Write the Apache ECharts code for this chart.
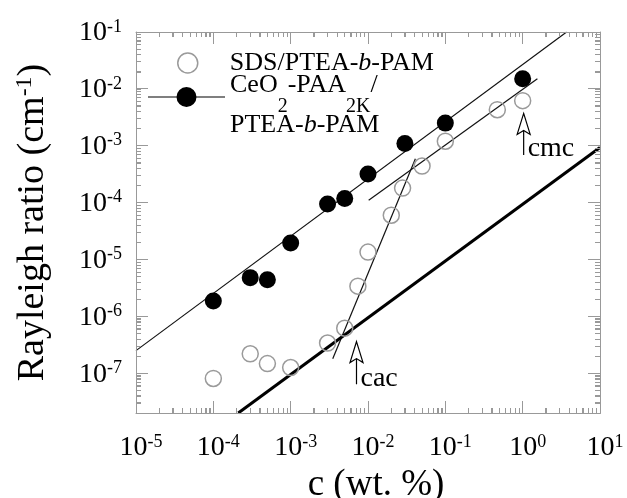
<!DOCTYPE html>
<html><head><meta charset="utf-8">
<script src="https://cdn.jsdelivr.net/npm/echarts@6/dist/echarts.min.js"></script>
<style>html,body{margin:0;padding:0;background:#fff}#c{width:627px;height:498px}</style>
</head><body><div id="c"></div>
<script>
// ---- data ----
const sdsC = [1e-4, 3e-4, 5e-4, 1e-3, 3e-3, 5e-3, 7.4e-3, 1e-2, 2e-2, 2.8e-2, 5e-2, 0.1, 0.47, 1];
const sdsR = [8.1e-8, 2.2e-7, 1.48e-7, 1.26e-7, 3.4e-7, 6.2e-7, 3.4e-6, 1.35e-5, 6e-5, 1.8e-4, 4.4e-4, 1.2e-3, 4.3e-3, 6.2e-3];
const ceoC = [1e-4, 3e-4, 5e-4, 1e-3, 3e-3, 5e-3, 1e-2, 3e-2, 0.1, 1];
const ceoR = [1.86e-6, 4.8e-6, 4.4e-6, 1.95e-5, 9.5e-5, 1.18e-4, 3.2e-4, 1.1e-3, 2.5e-3, 1.5e-2];
const fitCeo = [[1e-5, 2.5e-7], [3.7, 0.1]];
const fitSdsHigh = [[1.02e-2, 1.1e-4], [1.55, 1.5e-2]];
const fitSdsSteep = [[3.5e-3, 1.8e-7], [4.1e-2, 5.9e-4]];
const fitThick = [[2.1e-4, 2e-8], [10, 9.3e-4]];
const annoLabels = ['cmc', 'cac'];
const annoX = [1.03, 7.1e-3];
const annoTipY = [3.7e-3, 3.6e-7];
const annoTailY = [6.9e-4, 6.4e-8];
const xMajor = [1e-5, 1e-4, 1e-3, 1e-2, 1e-1, 1, 10];
const yMajor = [1e-7, 1e-6, 1e-5, 1e-4, 1e-3, 1e-2, 1e-1];
const xRange = [1e-5, 10];
const yRange = [2e-8, 0.1];
const seriesNames = ['SDS/PTEA-b-PAM', 'CeO2-PAA2K/PTEA-b-PAM'];

function minorsOf(lo, hi) {
  const out = [];
  for (let e = Math.floor(Math.log10(lo)); e < Math.ceil(Math.log10(hi)); e++) {
    for (let m = 2; m <= 9; m++) {
      const v = m * Math.pow(10, e);
      if (v > lo * 1.0001 && v < hi * 0.9999) out.push(v);
    }
  }
  return out;
}
const xTicksAll = xMajor.concat(minorsOf(xRange[0], xRange[1]));
const yTicksAll = yMajor.concat(minorsOf(yRange[0], yRange[1]));

// ---- style ----
const FONT = "'Liberation Serif', 'Times New Roman', serif";
const AX = '#999999';
const MAJOR_LEN = 12, MINOR_LEN = 5;
const zip = (a, b) => a.map((v, i) => [v, b[i]]);
const isIn = (arr, v) => arr.some(m => Math.abs(m - v) / m < 1e-6);
const snap = p => Math.floor(p) + 0.5;
function logLabel(v) { const e = Math.round(Math.log10(v)); return '{b|10}{s|' + e + '}'; }
const labelRich = {
  b: {fontFamily: FONT, fontSize: 28, lineHeight: 30, color: '#000'},
  s: {fontFamily: FONT, fontSize: 18, lineHeight: 18, verticalAlign: 'top', color: '#000'}
};
function ax(extra) {
  return Object.assign({
    type: 'log', splitLine: {show: false},
    axisLine: {show: true, onZero: false, lineStyle: {color: AX, width: 1}},
    axisLabel: {show: false}
  }, extra);
}
const tickCfg = vals => ({show: true, inside: true, length: MINOR_LEN, customValues: vals, lineStyle: {color: AX, width: 1}});

// one custom series for annotations, frame and ticks: [x, y, y2, kind]
// kind 0 = arrow, 1 = x tick, 2 = y tick, 3 = frame
const overlayData = []
  .concat(annoX.map((x, i) => [x, annoTipY[i], annoTailY[i], 0]))
  .concat(xTicksAll.map(v => [v, 1e-4, 1e-4, 1]))
  .concat(yTicksAll.map(v => [1e-2, v, v, 2]))
  .concat([[1e-2, 1e-4, 1e-4, 3]]);

function renderOverlay(params, api) {
  const kind = api.value(3);
  if (kind === 0) {
    const tip = api.coord([api.value(0), api.value(1)]);
    const tail = api.coord([api.value(0), api.value(2)]);
    const L = 21, W = 6.5, N = 4;
    return {type: 'group', children: [
      {type: 'line', shape: {x1: tip[0], y1: tip[1] + L - N, x2: tail[0], y2: tail[1]}, style: {stroke: '#000', lineWidth: 1.2}},
      {type: 'polygon', shape: {points: [[tip[0], tip[1]], [tip[0] + W, tip[1] + L], [tip[0], tip[1] + L - N], [tip[0] - W, tip[1] + L]]},
        style: {fill: '#fff', stroke: '#000', lineWidth: 1.2}},
      {type: 'text', style: {text: annoLabels[params.dataIndex], x: tip[0] + 4, y: tail[1] - 6, verticalAlign: 'middle', align: 'left',
        fontFamily: FONT, fontSize: 28, fill: '#000'}}
    ]};
  }
  if (kind === 1) {
    const v = api.value(0);
    const len = isIn(xMajor, v) ? MAJOR_LEN : MINOR_LEN;
    const b = api.coord([v, yRange[0]]);
    const t = api.coord([v, yRange[1]]);
    const x = snap(b[0]);
    return {type: 'group', children: [
      {type: 'line', shape: {x1: x, y1: b[1], x2: x, y2: b[1] - len}, style: {stroke: AX, lineWidth: 1}},
      {type: 'line', shape: {x1: x, y1: t[1], x2: x, y2: t[1] + len}, style: {stroke: AX, lineWidth: 1}}
    ]};
  }
  if (kind === 2) {
    const v = api.value(1);
    const len = isIn(yMajor, v) ? MAJOR_LEN : MINOR_LEN;
    const l = api.coord([xRange[0], v]);
    const r = api.coord([xRange[1], v]);
    const y = snap(l[1]);
    return {type: 'group', children: [
      {type: 'line', shape: {x1: l[0], y1: y, x2: l[0] + len, y2: y}, style: {stroke: AX, lineWidth: 1}},
      {type: 'line', shape: {x1: r[0], y1: y, x2: r[0] - len, y2: y}, style: {stroke: AX, lineWidth: 1}}
    ]};
  }
  const a = api.coord([xRange[0], yRange[0]]);
  const c = api.coord([xRange[1], yRange[1]]);
  const x0 = snap(a[0]), x1 = snap(c[0]), y0 = snap(a[1]), y1 = snap(c[1]);
  return {type: 'polyline', shape: {points: [[x0, y0], [x1, y0], [x1, y1], [x0, y1], [x0, y0]]},
    style: {fill: null, stroke: AX, lineWidth: 1}};
}

const option = {
  animation: false,
  grid: {left: 136, right: 27, top: 32, bottom: 85, outerBoundsMode: 'none', containLabel: false},
  xAxis: [
    ax({position: 'bottom', min: xRange[0], max: xRange[1], axisTick: tickCfg(xTicksAll),
      axisLabel: {show: true, customValues: xMajor, formatter: logLabel, rich: labelRich, margin: 20, padding: [0, 0, 0, 10]},
      name: 'c (wt. %)', nameLocation: 'middle', nameGap: 50,
      nameTextStyle: {fontFamily: FONT, fontSize: 37, lineHeight: 34, color: '#000', padding: [0, 0, 0, 16]}}),
    ax({position: 'top', min: xRange[0], max: xRange[1], axisTick: tickCfg(xTicksAll)})
  ],
  yAxis: [
    ax({position: 'left', min: yRange[0], max: yRange[1], axisTick: tickCfg(yTicksAll),
      axisLabel: {show: true, customValues: yMajor, formatter: logLabel, rich: labelRich, margin: 14, padding: [2, 0, 0, 0]},
      name: 'Rayleigh ratio (cm{s|-1})', nameLocation: 'middle', nameGap: 83,
      nameTextStyle: {fontFamily: FONT, fontSize: 38, lineHeight: 40, color: '#000', padding: [0, 0, 0, 0],
        rich: {s: {fontFamily: FONT, fontSize: 24, lineHeight: 24, verticalAlign: 'top', color: '#000'}}}}),
    ax({position: 'right', min: yRange[0], max: yRange[1], axisTick: tickCfg(yTicksAll)})
  ],
  legend: [
    {
      data: [{name: seriesNames[0], itemStyle: {borderWidth: 1.5, borderColor: '#9a9a9a', color: 'rgba(0,0,0,0)'}}],
      left: 177, top: 48, padding: 0, itemWidth: 20, itemHeight: 20, selectedMode: false,
      formatter: () => 'SDS/PTEA-{i|b}-PAM',
      textStyle: {fontFamily: FONT, fontSize: 26, lineHeight: 30, color: '#000', padding: [0, 0, 0, 27],
        rich: {i: {fontFamily: FONT, fontSize: 26, fontStyle: 'italic', color: '#000'}}}
    },
    {
      data: [{name: seriesNames[1], icon: 'path://M0,10L77,10L77,11L0,11Z M28.5,10.5A10,10,0,1,1,48.5,10.5A10,10,0,1,1,28.5,10.5Z'}],
      left: 148, top: 49, padding: 0, itemWidth: 77, itemHeight: 21, selectedMode: false,
      formatter: () => 'CeO{sub|2}-PAA{sub|2K}/\nPTEA-{i|b}-PAM',
      textStyle: {fontFamily: FONT, fontSize: 26, lineHeight: 40, color: '#000', padding: [16, 0, 0, 0],
        rich: {
          i: {fontFamily: FONT, fontSize: 26, fontStyle: 'italic', color: '#000'},
          sub: {fontFamily: FONT, fontSize: 20, verticalAlign: 'top', padding: [32, 0, 0, 0], color: '#000'}
        }}
    }
  ],
  series: [
    {type: 'line', data: fitCeo, symbol: 'none', silent: true, lineStyle: {color: '#111', width: 1.2}, z: 2},
    {type: 'line', data: fitSdsHigh, symbol: 'none', silent: true, lineStyle: {color: '#111', width: 1.2}, z: 2},
    {type: 'line', data: fitSdsSteep, symbol: 'none', silent: true, lineStyle: {color: '#111', width: 1.2}, z: 2},
    {type: 'line', data: fitThick, symbol: 'none', silent: true, lineStyle: {color: '#000', width: 3}, z: 2},
    {name: seriesNames[0], type: 'scatter', data: zip(sdsC, sdsR), symbol: 'circle', symbolSize: 16,
      itemStyle: {color: 'rgba(0,0,0,0)', borderColor: '#9a9a9a', borderWidth: 1.5, opacity: 1}, z: 3},
    {name: seriesNames[1], type: 'scatter', data: zip(ceoC, ceoR), symbol: 'circle', symbolSize: 17,
      itemStyle: {color: '#000', opacity: 1}, z: 4},
    {type: 'custom', silent: true, z: 5, data: overlayData, renderItem: renderOverlay}
  ]
};
const chart = echarts.init(document.getElementById('c'), null, {renderer: 'canvas'});
chart.setOption(option);
</script></body></html>
